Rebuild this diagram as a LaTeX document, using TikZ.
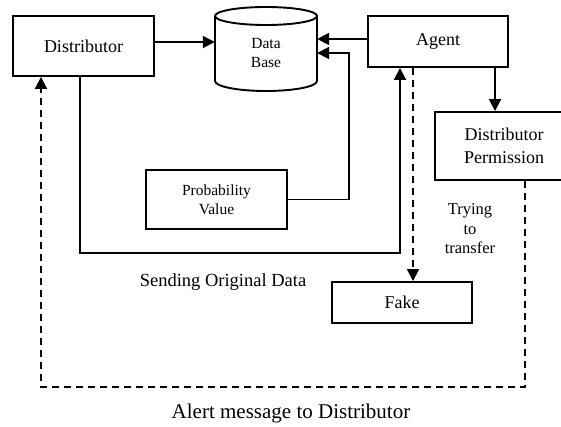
\documentclass[tikz,border=0pt]{standalone}
\usepackage{fontspec}
\setmainfont{Liberation Serif}
\usetikzlibrary{arrows.meta}
\begin{document}
\begin{tikzpicture}[x=1pt,y=-1pt,
  box/.style={draw,line width=1.9pt,inner sep=0pt,align=center},
  arr/.style={line width=1.9pt,-{Triangle[length=12pt,width=12pt]}},
  dsh/.style={line width=1.9pt,dash pattern=on 7pt off 5pt},
  big/.style={font=\fontsize{18}{23}\selectfont},
  small/.style={font=\fontsize{15.5}{19}\selectfont}]
\useasboundingbox (0,0) rectangle (561,427);
% nodes
\node[box,big,minimum width=141pt,minimum height=60pt] (dist) at (83.5,46) {Distributor};
\node[box,big,minimum width=140pt,minimum height=51pt] (agent) at (438,41.5) {Agent};
\node[inner sep=0pt,minimum width=102pt,minimum height=84pt] (db) at (266,49) {};
\node[small,align=center] (dbt) at (266,53) {Data\\Base};
\node[box,small,minimum width=141pt,minimum height=59pt] (prob) at (216.5,199.5) {Probability\\Value};
\node[box,big,minimum width=138pt,minimum height=68pt] (perm) at (504,146) {Distributor\\Permission};
\node[box,big,minimum width=140pt,minimum height=41pt] (fake) at (402,302.5) {Fake};
% cylinder
\draw[line width=1.9pt] (215,16) arc[start angle=180,end angle=360,x radius=51pt,y radius=9pt]
  arc[start angle=0,end angle=180,x radius=51pt,y radius=9pt];
\draw[line width=1.9pt] (215,16) -- (215,81) arc[start angle=180,end angle=360,x radius=51pt,y radius=10pt] -- (317,16);
% labels
\node[font=\fontsize{18.5}{22}\selectfont] (lsend) at (223,282) {Sending Original Data};
\node[align=center,font=\fontsize{16.5}{19.5}\selectfont] (ltry) at (470,229) {Trying\\to\\transfer};
\node[font=\fontsize{21}{25}\selectfont] (lalert) at (291,413) {Alert message to Distributor};
% connectors
\draw[arr] (dist.east |- 0,42) -- (db.west |- 0,42);
\draw[arr] (agent.west |- 0,39) -- (db.east |- 0,39);
\draw[arr] (prob.east) -- (349,199.5) -- (349,53) -- (db.east |- 0,53);
\draw[arr] (dist.south -| 80,0) -- (80,253) -- (400,253) -- (agent.south -| 400,0);
\draw[arr] (agent.south -| 495,0) -- (perm.north -| 495,0);
\draw[dsh,-{Triangle[length=12pt,width=12pt]}] (agent.south -| 413,0) -- (fake.north -| 413,0);
\draw[dsh,-{Triangle[length=12pt,width=12pt]}] (perm.south -| 525,0) -- (525,387) -- (41,387) -- (dist.south -| 41,0);
\end{tikzpicture}
\end{document}
